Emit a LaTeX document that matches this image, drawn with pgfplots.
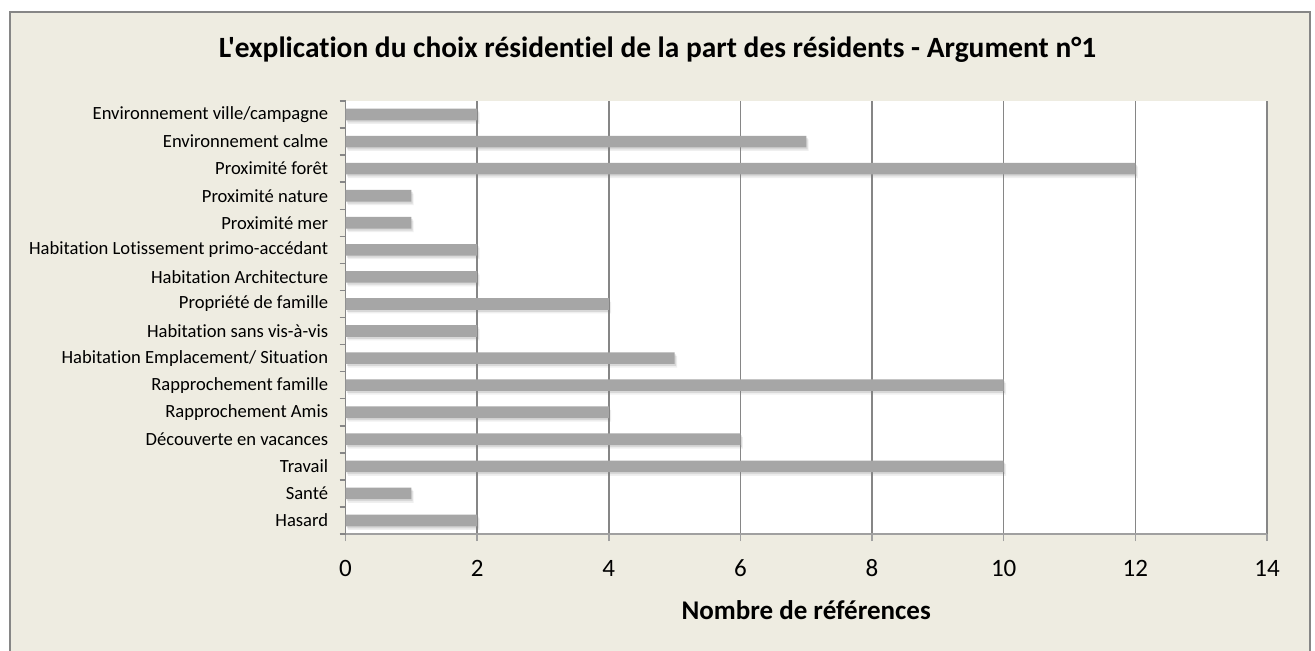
\documentclass[border=0pt]{standalone}
\usepackage{fontspec}
\setmainfont{Carlito}[Ligatures=NoCommon]
\newfontfamily\plainfont{Carlito}[Ligatures=NoCommon]
\usepackage{pgfplots}
\pgfplotsset{compat=1.18}
\usetikzlibrary{shadows}
\definecolor{chartBg}{HTML}{EEECE1}
\definecolor{frameGray}{HTML}{868686}
\definecolor{axisGray}{HTML}{A0A0A0}
\definecolor{barGray}{HTML}{A6A6A6}

\begin{document}
\begin{tikzpicture}[x=1pt,y=1pt]
\useasboundingbox (0,0) rectangle (657.5,325);
% chart area
\filldraw[fill=chartBg, draw=frameGray, line width=0.75pt] (5,-3) rectangle (655,319);
\node[font=\plainfont\bfseries\fontsize{14.7}{17}\selectfont] at (328.75,300)
  {L'explication du choix résidentiel de la part des résidents - Argument n°1};
\begin{axis}[
  at={(172.75pt,58pt)}, anchor=south west,
  width=460.75pt, height=216.5pt, scale only axis,
  xbar, bar width=5.8pt,
  xmin=0, xmax=14, xtick={0,2,...,14},
  ymin=-0.5, ymax=15.5,
  ytick={0,...,15},
  yticklabels={Hasard, Santé, Travail, Découverte en vacances, Rapprochement Amis,
    Rapprochement famille, Habitation Emplacement/ Situation, Habitation sans vis-à-vis,
    Propriété de famille, Habitation Architecture, Habitation Lotissement primo-accédant,
    Proximité mer, Proximité nature, Proximité forêt, Environnement calme,
    Environnement ville/campagne},
  minor ytick={-0.5,0.5,...,15.5},
  axis background/.style={fill=white},
  axis x line*=bottom, axis y line*=left,
  x axis line style={-, draw=axisGray, line width=0.75pt},
  y axis line style={-, draw=frameGray, line width=0.75pt},
  tick align=outside,
  major tick length=3.5pt, minor tick length=3pt,
  major y tick style={draw=none},
  minor y tick style={draw=frameGray, line width=0.75pt},
  major x tick style={draw=axisGray, line width=0.75pt},
  xmajorgrids,
  major x grid style={draw=frameGray, line width=0.75pt},
  /pgf/number format/assume math mode=true,
  xticklabel style={font=\fontsize{12.5}{15}\selectfont, anchor=center, yshift=-13.5pt},
  yticklabel style={font=\fontsize{9.3}{11}\selectfont, anchor=east, inner sep=0pt, xshift=-5pt},
  xlabel={\bfseries Nombre de références},
  xlabel style={font=\fontsize{13.5}{16}\selectfont, at={(axis description cs:0.5,0)}, anchor=center, yshift=-38pt},
]
% soft shadow made of two offset copies, then the bar
\addplot[fill=barGray, draw=none,
  drop shadow={shadow xshift=1.2pt, shadow yshift=-1.8pt, opacity=0.12},
  drop shadow={shadow xshift=0.7pt, shadow yshift=-1pt, opacity=0.2}]
  coordinates {(2,0) (1,1) (10,2) (6,3) (4,4) (10,5) (5,6) (2,7)
               (4,8) (2,9) (2,10) (1,11) (1,12) (12,13) (7,14) (2,15)};
\end{axis}
\end{tikzpicture}
\end{document}
